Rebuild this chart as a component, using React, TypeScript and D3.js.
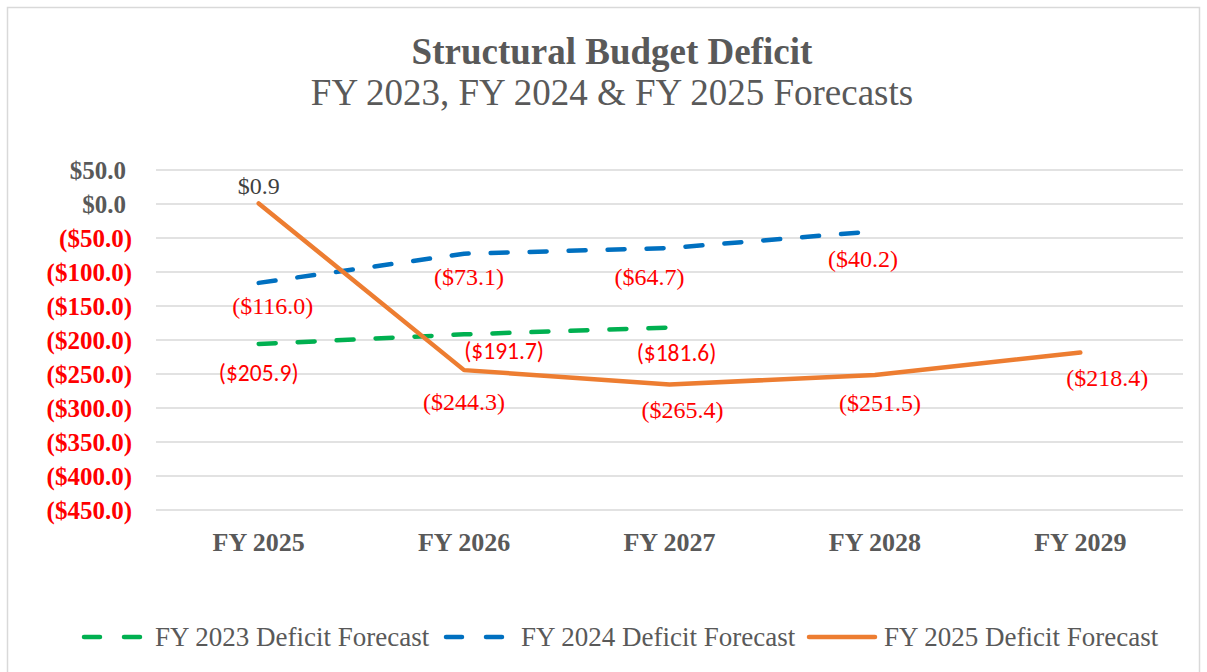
import React from "react";
import * as d3 from "d3";

const categories = ["FY 2025", "FY 2026", "FY 2027", "FY 2028", "FY 2029"];
const fy2023Values = [-205.9, -191.7, -181.6];
const fy2024Values = [-116.0, -73.1, -64.7, -40.2];
const fy2025Values = [0.9, -244.3, -265.4, -251.5, -218.4];
const yTicks = [50, 0, -50, -100, -150, -200, -250, -300, -350, -400, -450];
const seriesNames = ["FY 2023 Deficit Forecast", "FY 2024 Deficit Forecast", "FY 2025 Deficit Forecast"];

// label nudges (layout only)
const nudge2023 = [[0, 29], [40, 16], [7, 25]];
const nudge2024 = [[14, 23], [5, 23], [-20, 29], [-12, 27]];
const nudge2025 = [[0, -18], [0, 31], [13, 25], [5, 28], [27, 25]];

const W = 1207;
const H = 672;
const serif = "'Liberation Serif', 'Times New Roman', serif";
const sans = "Carlito, Lato, 'Noto Sans', sans-serif";
const GRAY = "#595959";
const RED = "#FF0000";

const fmt = (v: number) => {
  const s = "$" + Math.abs(v).toFixed(1);
  return v < 0 ? `(${s})` : s;
};

export default function App() {
  const x = d3.scaleBand<string>().domain(categories).range([156, 1183]);
  const y = d3.scaleLinear().domain([-450, 50]).range([510, 170]);
  const cx = (i: number) => (x(categories[i]) as number) + x.bandwidth() / 2;
  const line = d3
    .line<number>()
    .x((_, i) => cx(i))
    .y((d) => y(d));

  const series = [
    { name: seriesNames[0], values: fy2023Values, color: "#00B050", dash: "17 22", nudge: nudge2023, labelFont: sans, labelSize: 23.5 },
    { name: seriesNames[1], values: fy2024Values, color: "#0070C0", dash: "17 22", nudge: nudge2024, labelFont: serif, labelSize: 24 },
    { name: seriesNames[2], values: fy2025Values, color: "#ED7D31", dash: undefined, nudge: nudge2025, labelFont: serif, labelSize: 24 },
  ];

  const legendLine = [[84, 142], [446, 504], [809, 875]];
  const legendText = [155, 521, 884];

  return (
    <svg width={W} height={H} style={{ position: "absolute", left: 0, top: 0 }}>
      <rect x={0} y={0} width={W} height={H} fill="#fff" />
      <rect x={7.5} y={7.5} width={1192} height={668} fill="#fff" stroke="#D9D9D9" strokeWidth={1.5} />
      <text x={612} y={64} textAnchor="middle" fontFamily={serif} fontWeight="bold" fontSize={37} fill={GRAY}>
        Structural Budget Deficit
      </text>
      <text x={612} y={105} textAnchor="middle" fontFamily={serif} fontSize={37} fill={GRAY}>
        FY 2023, FY 2024 &amp; FY 2025 Forecasts
      </text>
      {yTicks.map((t) => (
        <g key={t}>
          <line x1={156} x2={1183} y1={y(t)} y2={y(t)} stroke="#D9D9D9" strokeWidth={1.5} />
          <text
            x={t < 0 ? 132 : 126}
            y={y(t)}
            dy="0.34em"
            textAnchor="end"
            fontFamily={serif}
            fontWeight="bold"
            fontSize={25}
            fill={t < 0 ? RED : GRAY}
          >
            {fmt(t)}
          </text>
        </g>
      ))}
      {categories.map((c, i) => (
        <text key={c} x={cx(i)} y={551} textAnchor="middle" fontFamily={serif} fontWeight="bold" fontSize={26} fill={GRAY}>
          {c}
        </text>
      ))}
      {series.map((s) => (
        <path
          key={s.name}
          d={line(s.values) || ""}
          fill="none"
          stroke={s.color}
          strokeWidth={4.5}
          strokeDasharray={s.dash}
          strokeLinecap="round"
          strokeLinejoin="round"
        />
      ))}
      {series.map((s) =>
        s.values.map((v, i) => (
          <text
            key={s.name + i}
            x={cx(i) + s.nudge[i][0]}
            y={y(v) + s.nudge[i][1]}
            dy="0.35em"
            textAnchor="middle"
            fontFamily={s.labelFont}
            fontSize={s.labelSize}
            fill={v < 0 ? RED : "#404040"}
          >
            {fmt(v)}
          </text>
        ))
      )}
      {series.map((s, k) => (
        <g key={"lg" + k}>
          <line
            x1={legendLine[k][0]}
            x2={legendLine[k][1]}
            y1={637}
            y2={637}
            stroke={s.color}
            strokeWidth={4.5}
            strokeDasharray={s.dash ? "16 24" : undefined}
            strokeLinecap="round"
          />
          <text x={legendText[k]} y={637} dy="0.34em" fontFamily={serif} fontSize={27} fill={GRAY}>
            {s.name}
          </text>
        </g>
      ))}
    </svg>
  );
}
